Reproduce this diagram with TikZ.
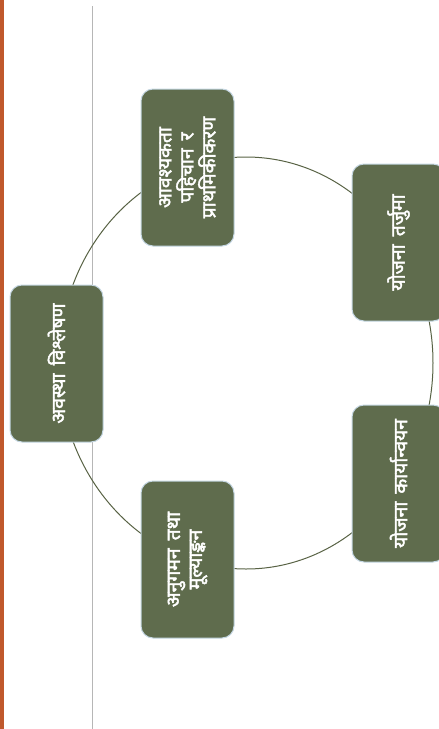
\documentclass[tikz,border=0pt]{standalone}
\usepackage{fontspec}
\newfontfamily\devfont[Script=Devanagari, AutoFakeBold=2.2, WordSpace=1.6]{Noto Sans}
\definecolor{boxgreen}{RGB}{95,108,77}
\definecolor{boxedge}{RGB}{196,214,226}
\definecolor{arcgreen}{RGB}{88,98,68}
\definecolor{barorange}{RGB}{192,88,44}
\definecolor{rulegray}{RGB}{182,182,182}
\tikzset{every picture/.style={line width=0.75pt}}
\tikzset{stage/.style={draw=boxedge, fill=boxgreen, rounded corners=9pt, rotate=90,
  minimum width=117.75pt, minimum height=69.75pt, inner sep=2pt, text=white,
  align=center, font=\devfont\bfseries\fontsize{14.5}{16.5}\selectfont}}

\begin{document}
\begin{tikzpicture}[x=0.75pt,y=0.75pt,yscale=-1,xscale=1]
\clip (0,0) rectangle (439,729);

%Left bar
\fill [barorange] (0,0) rectangle (4,729);
%Gray rule
\draw [rulegray, line width=1.1pt] (92.5,6) -- (92.5,729);

%Cycle
\coordinate (hub) at (246,363);
\draw [arcgreen] (hub) ellipse [x radius=187, y radius=206];

% Stages
\node [stage] (situation) at (56.5,363.5) {अवस्था विश्लेषण};
\node [stage] (needs) at (187.5,167.5) {आवश्यकता\\पहिचान र\\प्राथमिकीकरण};
\node [stage] (plan) at (398.5,242.5) {योजना तर्जुमा};
\node [stage] (implement) at (398.5,483.5) {योजना कार्यान्वयन};
\node [stage] (monitor) at (187.5,559.5) {अनुगमन तथा\\मूल्याङ्कन};

\end{tikzpicture}
\end{document}
